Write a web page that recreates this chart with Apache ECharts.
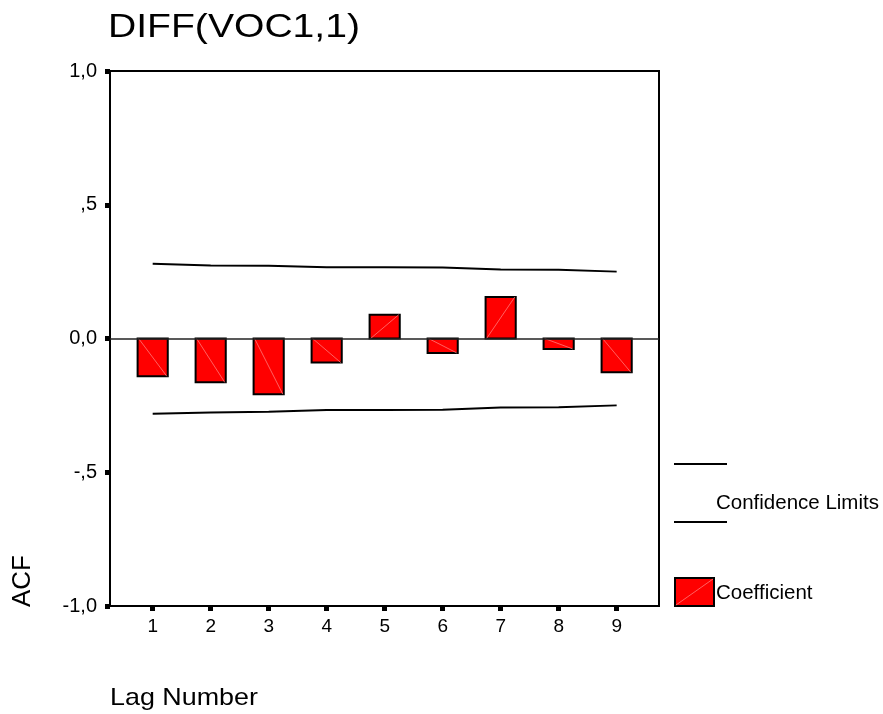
<!DOCTYPE html>
<html>
<head>
    <meta charset="utf-8"/>
    <title>DIFF(VOC1,1) ACF</title>
    <style type="text/css">
        html, body { margin: 0; padding: 0; background: #fff; }
        #main { width: 883px; height: 714px; }
    </style>
    <script type="text/javascript" src="https://cdn.jsdelivr.net/npm/echarts@6/dist/echarts.min.js"></script>
</head>
<body>
<div id="main"></div>
<script type="text/javascript">
    // 数据
    var lags = [1, 2, 3, 4, 5, 6, 7, 8, 9];
    var coefficient = [-0.141, -0.164, -0.208, -0.090, 0.089, -0.054, 0.155, -0.039, -0.126];
    var upperLimit = [0.279, 0.273, 0.272, 0.266, 0.266, 0.265, 0.258, 0.257, 0.250];
    var lowerLimit = [-0.281, -0.277, -0.274, -0.267, -0.267, -0.266, -0.258, -0.257, -0.250];
    var yTicks = [-1, -0.5, 0, 0.5, 1];
    var yTickLabels = ['-1,0', '-,5', '0,0', ',5', '1,0'];

    var font = 'Liberation Sans, Arial, sans-serif';

    function pairs(vals) {
        return lags.map(function (l, i) { return [l, vals[i]]; });
    }

    // 柱子：红色矩形 + 浅色对角线
    function renderBar(params, api) {
        var x = api.value(0), v = api.value(1);
        var p0 = api.coord([x, 0]);
        var p1 = api.coord([x, v]);
        var w = api.size([1, 0])[0] * 0.52;
        var left = p0[0] - w / 2;
        return {
            type: 'group',
            children: [
                {
                    type: 'rect',
                    shape: {x: left, y: Math.min(p0[1], p1[1]), width: w, height: Math.abs(p1[1] - p0[1])},
                    style: {fill: '#ff0000', stroke: '#000', lineWidth: 2}
                },
                {
                    type: 'line',
                    shape: {x1: left + 1, y1: p0[1], x2: left + w - 1, y2: p1[1]},
                    style: {stroke: '#ff7a7a', lineWidth: 0.8}
                }
            ]
        };
    }

    var myChart = echarts.init(document.getElementById('main'));

    var option = {
        backgroundColor: '#fff',
        animation: false,
        grid: {
            left: 110, top: 71, right: 224, bottom: 108,
            show: true, borderColor: '#000', borderWidth: 2, backgroundColor: '#fff'
        },
        xAxis: {
            type: 'value',
            min: 0.264,
            max: 9.73,
            axisLine: {show: true, onZero: false, lineStyle: {color: '#000', width: 2}},
            axisTick: {show: true, customValues: lags, length: 5, lineStyle: {color: '#000', width: 5}},
            axisLabel: {customValues: lags, color: '#000', fontFamily: font, fontSize: 19, margin: 11},
            splitLine: {show: false}
        },
        yAxis: {
            type: 'value',
            min: -1,
            max: 1,
            interval: 0.5,
            axisLine: {show: true, lineStyle: {color: '#000', width: 2}},
            axisTick: {show: true, length: 5, lineStyle: {color: '#000', width: 5}},
            axisLabel: {
                color: '#000', fontFamily: font, fontSize: 20, margin: 13,
                formatter: function (v) {
                    var i = yTicks.indexOf(Math.round(v * 10) / 10);
                    return i >= 0 ? yTickLabels[i] : '';
                }
            },
            splitLine: {show: false}
        },
        series: [
            {
                name: 'Upper',
                type: 'line',
                data: pairs(upperLimit),
                showSymbol: false,
                lineStyle: {color: '#000', width: 2},
                markLine: {
                    silent: true,
                    symbol: 'none',
                    label: {show: false},
                    lineStyle: {color: '#222', width: 1.5, type: 'solid'},
                    data: [{yAxis: 0}]
                }
            },
            {
                name: 'Lower',
                type: 'line',
                data: pairs(lowerLimit),
                showSymbol: false,
                lineStyle: {color: '#000', width: 2}
            },
            {
                name: 'Coefficient',
                type: 'custom',
                data: pairs(coefficient),
                renderItem: renderBar,
                z: 3
            }
        ],
        graphic: [
            // 标题
            {type: 'text', x: 108, y: 28, scaleX: 1.15, style: {text: 'DIFF(VOC1,1)', fill: '#000', font: '34px ' + font, verticalAlign: 'middle'}},
            // 图例
            {type: 'line', shape: {x1: 674, y1: 464, x2: 727, y2: 464}, style: {stroke: '#000', lineWidth: 2}},
            {type: 'line', shape: {x1: 674, y1: 522, x2: 727, y2: 522}, style: {stroke: '#000', lineWidth: 2}},
            {type: 'text', x: 716, y: 503, style: {text: 'Confidence Limits', fill: '#000', font: '20.5px ' + font, verticalAlign: 'middle'}},
            {type: 'rect', shape: {x: 675, y: 578, width: 39, height: 28}, style: {fill: '#ff0000', stroke: '#000', lineWidth: 2}},
            {type: 'line', shape: {x1: 676, y1: 605, x2: 713, y2: 579}, style: {stroke: '#ff7a7a', lineWidth: 0.8}},
            {type: 'text', x: 716, y: 593, style: {text: 'Coefficient', fill: '#000', font: '20.5px ' + font, verticalAlign: 'middle'}},
            // 坐标轴名称
            {type: 'text', x: 110, y: 698, scaleX: 1.12, style: {text: 'Lag Number', fill: '#000', font: '24px ' + font, verticalAlign: 'middle'}},
            {type: 'text', x: 10, y: 607, rotation: Math.PI / 2, style: {text: 'ACF', fill: '#000', font: '26px ' + font}}
        ]
    };

    myChart.setOption(option);
</script>
</body>
</html>
